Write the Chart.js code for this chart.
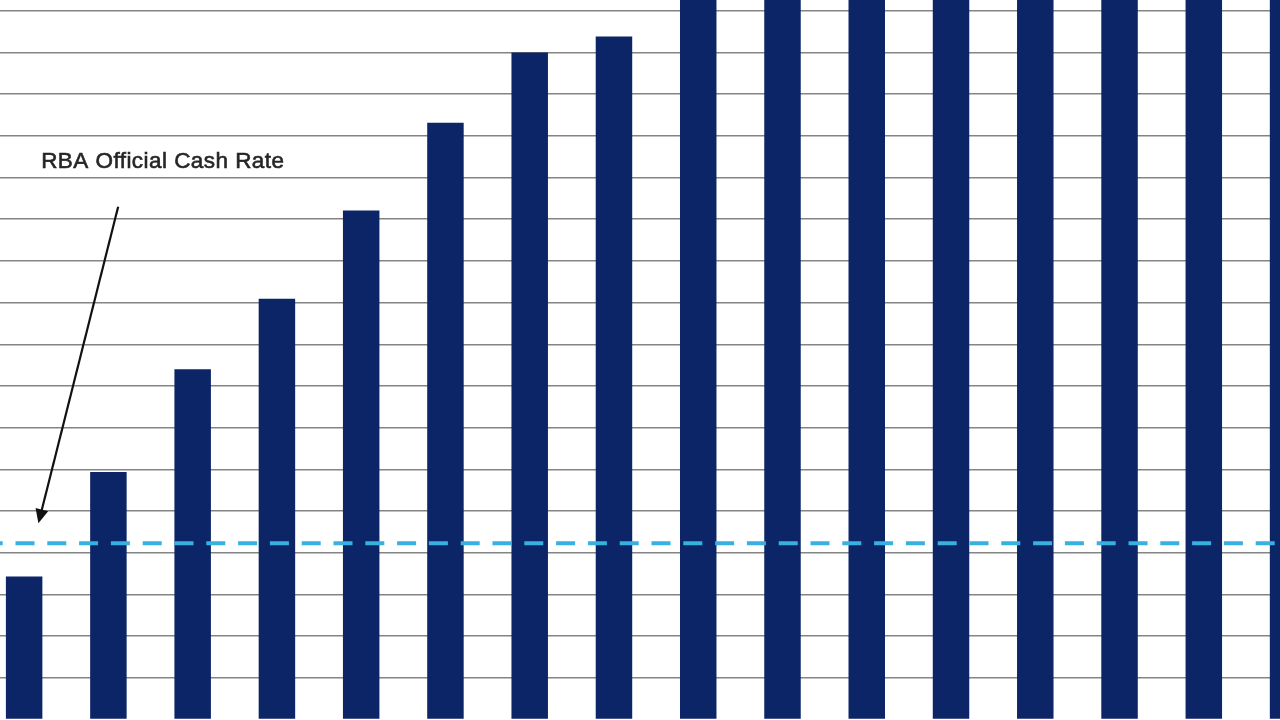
<!DOCTYPE html>
<html>
<head>
<meta charset="utf-8">
<style>
  html,body{margin:0;padding:0;background:#ffffff;overflow:hidden;width:1280px;height:720px;}
  #wrap{position:absolute;left:-18.13px;top:-31.2px;width:1348.2px;height:750.6px;}
</style>
<script src="https://cdn.jsdelivr.net/npm/chart.js@4/dist/chart.umd.min.js"></script>
</head>
<body>
<div id="wrap"><canvas id="c"></canvas></div>
<script>
// ---- data ----
const categories = ['1','2','3','4','5','6','7','8','9','10','11','12','13','14','15','16'];
const barValues  = [3.43, 5.94, 8.40, 10.09, 12.21, 14.31, 16.00, 16.38, 18.6, 19.0, 19.3, 19.6, 19.8, 20.0, 20.1, 20.2];
const cashRate   = 4.23;
const annotationText = 'RBA Official Cash Rate';
// annotation anchors in data space: [category index, value]
const arrowFrom = [1.116, 12.30];
const arrowTo   = [0.170, 4.71];
const textAt    = [0.202, 13.23];

const refLinePlugin = {
  id: 'refLine',
  afterDatasetsDraw(chart) {
    const {ctx, chartArea, scales} = chart;
    const x = scales.x, y = scales.y;
    // dashed cash rate line
    const py = y.getPixelForValue(cashRate);
    ctx.save();
    ctx.strokeStyle = '#37b0e2';
    ctx.lineWidth = 4;
    ctx.setLineDash([19, 12.8]);
    ctx.lineDashOffset = 30.1;
    ctx.beginPath();
    ctx.moveTo(chartArea.left, py);
    ctx.lineTo(chartArea.right, py);
    ctx.stroke();
    ctx.restore();

    // arrow
    const x1 = x.getPixelForValue(arrowFrom[0]), y1 = y.getPixelForValue(arrowFrom[1]);
    const x2 = x.getPixelForValue(arrowTo[0]),   y2 = y.getPixelForValue(arrowTo[1]);
    const ang = Math.atan2(y2 - y1, x2 - x1);
    const headLen = 14, headW = 6.5;
    ctx.save();
    ctx.strokeStyle = '#111111';
    ctx.fillStyle = '#111111';
    ctx.lineWidth = 2.2;
    ctx.beginPath();
    ctx.moveTo(x1, y1);
    ctx.lineTo(x2 - Math.cos(ang) * headLen * 0.8, y2 - Math.sin(ang) * headLen * 0.8);
    ctx.stroke();
    ctx.beginPath();
    ctx.moveTo(x2, y2);
    ctx.lineTo(x2 - Math.cos(ang) * headLen + Math.sin(ang) * headW, y2 - Math.sin(ang) * headLen - Math.cos(ang) * headW);
    ctx.lineTo(x2 - Math.cos(ang) * headLen - Math.sin(ang) * headW, y2 - Math.sin(ang) * headLen + Math.cos(ang) * headW);
    ctx.closePath();
    ctx.fill();
    ctx.restore();

    // label
    ctx.save();
    ctx.font = '22.5px "Liberation Sans", Arial, sans-serif';
    try { ctx.letterSpacing = '0.45px'; } catch (e) {}
    ctx.fillStyle = '#262626';
    ctx.strokeStyle = '#262626';
    ctx.lineWidth = 0.6;
    ctx.textBaseline = 'alphabetic';
    ctx.textAlign = 'left';
    const tx = x.getPixelForValue(textAt[0]), ty = y.getPixelForValue(textAt[1]);
    ctx.fillText(annotationText, tx, ty);
    ctx.strokeText(annotationText, tx, ty);
    ctx.restore();
  }
};

new Chart(document.getElementById('c'), {
  type: 'bar',
  data: {
    labels: categories,
    datasets: [{
      data: barValues,
      backgroundColor: '#0b2566',
      borderWidth: 0,
      categoryPercentage: 1.0,
      barPercentage: 0.433
    }]
  },
  options: {
    responsive: true,
    maintainAspectRatio: false,
    animation: false,
    layout: { padding: 0 },
    plugins: { legend: { display: false }, tooltip: { enabled: false } },
    scales: {
      x: { display: false, offset: true },
      y: {
        min: 0, max: 18,
        ticks: { display: false, stepSize: 1 },
        grid: { color: '#848484', lineWidth: 1.6, drawTicks: false },
        border: { display: false }
      }
    }
  },
  plugins: [refLinePlugin]
});
</script>
</body>
</html>
